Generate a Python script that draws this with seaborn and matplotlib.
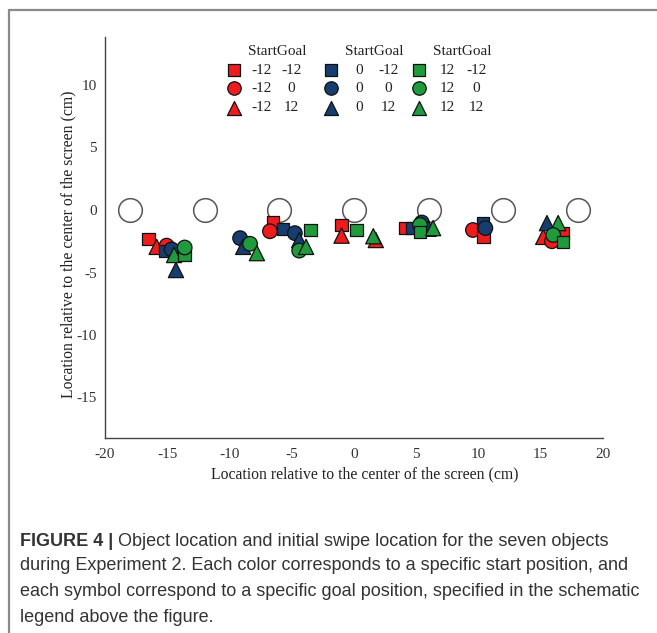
import matplotlib
matplotlib.use("Agg")
import matplotlib.pyplot as plt
from matplotlib.lines import Line2D
import numpy as np
import pandas as pd
import seaborn as sns

# Object locations (cm) shown as open circles on the screen line
object_x = [-18, -12, -6, 0, 6, 12, 18]
object_y = [0, 0, 0, 0, 0, 0, 0]

# Initial swipe locations: start position, goal position, x (cm), y (cm)
swipe_start = [-12, -12, -12, 0, 0, 0, 12, 12, 12,
               0, 0, 12, 12,
               -12, -12, 0, 0, 0, 12, 12, 12,
               -12, -12, 12, 12, -12,
               -12, 0, 0, 12, 12, 0, 12,
               -12, -12, 0, 0,
               -12, -12, 0, 12, -12, 12, 12]
swipe_goal = [-12, 12, 0, -12, 0, 12, 12, -12, 0,
              0, 12, 0, 12,
              -12, 0, -12, 0, 12, 0, 12, -12,
              -12, 12, -12, 12, 12,
              -12, -12, 0, 0, -12, 12, 12,
              0, -12, -12, 0,
              12, 0, 12, 12, -12, 0, -12]
swipe_x = [-16.5, -15.85, -15.05, -15.2, -14.65, -14.3, -14.45, -13.6, -13.6,
           -9.15, -8.9, -8.35, -7.8,
           -6.5, -6.75, -5.7, -4.75, -4.4, -4.4, -3.85, -3.5,
           -1.0, -1.0, 0.2, 1.55, 1.75,
           4.1, 4.65, 5.45, 5.3, 5.3, 6.0, 6.35,
           9.55, 10.4, 10.35, 10.55,
           15.2, 15.9, 15.5, 16.4, 16.8, 16.0, 16.8]
swipe_y = [-2.3, -2.95, -2.85, -3.3, -3.15, -4.8, -3.6, -3.6, -3.0,
           -2.25, -2.95, -2.7, -3.45,
           -1.0, -1.7, -1.5, -1.85, -2.4, -3.25, -2.95, -1.6,
           -1.2, -2.05, -1.6, -2.1, -2.4,
           -1.45, -1.45, -1.0, -1.2, -1.75, -1.5, -1.45,
           -1.6, -2.15, -1.05, -1.45,
           -2.15, -2.5, -1.05, -1.05, -1.85, -2.0, -2.55]

start_levels = [-12, 0, 12]
goal_levels = [-12, 0, 12]
start_colors = {-12: "#ee1c1c", 0: "#163d6d", 12: "#1f9a3c"}
goal_markers = {-12: "s", 0: "o", 12: "^"}
goal_sizes = {-12: 80, 0: 110, 12: 120}

x_ticks = [-20, -15, -10, -5, 0, 5, 10, 15, 20]
y_ticks = [-15, -10, -5, 0, 5, 10]
axis_label = "Location relative to the center of the screen (cm)"
caption_bold = "FIGURE 4 |"
caption_lines = [
    "Object location and initial swipe location for the seven objects",
    "during Experiment 2. Each color corresponds to a specific start position, and",
    "each symbol correspond to a specific goal position, specified in the schematic",
    "legend above the figure.",
]

df = pd.DataFrame({"start": swipe_start, "goal": swipe_goal, "x": swipe_x, "y": swipe_y})
df["order"] = df["start"].map({-12: 0, 0: 1, 12: 2})
df = df.sort_values("order", kind="stable")

sns.set_style("white")
serif = ["Liberation Serif", "DejaVu Serif"]
plt.rcParams["font.family"] = serif

W, H = 657, 633
fig = plt.figure(figsize=(W / 100, H / 100), dpi=100)

# page frame around the figure panel
fig.add_artist(Line2D([9 / W, 1.0], [1 - 10 / H, 1 - 10 / H], color="#8a8a8a", lw=1.6,
                      transform=fig.transFigure))
fig.add_artist(Line2D([9 / W, 9 / W], [0, 1 - 10 / H], color="#8a8a8a", lw=1.6,
                      transform=fig.transFigure))

ax = fig.add_axes([105 / W, 1 - 438 / H, (603 - 105) / W, (438 - 37) / H])
ax.set_xlim(-20, 20)
ax.set_ylim(-18.24, 13.84)

# object locations
sns.scatterplot(x=object_x, y=object_y, ax=ax, s=290, marker="o",
                facecolor="white", edgecolor="#555555", linewidth=1.1, zorder=2, legend=False)

# swipe locations, colour = start, symbol = goal
sns.scatterplot(data=df, x="x", y="y", hue="start", style="goal", size="goal",
                palette=start_colors, markers=goal_markers, sizes=goal_sizes,
                hue_order=start_levels, style_order=goal_levels, size_order=goal_levels,
                edgecolor="#111111", linewidth=0.9, ax=ax, legend=False, zorder=3)

# schematic legend
text_size = 11
col_anchor_x = [-9.64, -1.85, 5.22]
row_y = [11.2, 9.74, 8.18]
for ci, s_val in enumerate(start_levels):
    x0 = col_anchor_x[ci]
    ax.text(x0 + 1.1, 12.66, "StartGoal", ha="left", va="center", fontsize=text_size,
            color="#222222")
    for ri, g_val in enumerate(goal_levels):
        ax.scatter([x0], [row_y[ri]], marker=goal_markers[g_val], s=goal_sizes[g_val] * 0.85,
                   color=start_colors[s_val], edgecolor="#111111", linewidth=0.9, zorder=3)
        ax.text(x0 + 2.25, row_y[ri], str(s_val), ha="center", va="center", fontsize=text_size,
                color="#222222")
        ax.text(x0 + 4.6, row_y[ri], str(g_val), ha="center", va="center", fontsize=text_size,
                color="#222222")

ax.set_xticks(x_ticks)
ax.set_yticks(y_ticks)
ax.set_xticklabels([str(v) for v in x_ticks])
ax.set_yticklabels([str(v) for v in y_ticks])
ax.tick_params(direction="in", length=4, width=0.9, colors="#444444", labelsize=11,
               labelcolor="#333333")
ax.tick_params(axis="x", pad=7)
ax.tick_params(axis="y", pad=6)
for side in ["top", "right"]:
    ax.spines[side].set_visible(False)
for side in ["left", "bottom"]:
    ax.spines[side].set_color("#444444")
    ax.spines[side].set_linewidth(1.0)

ax.set_xlabel(axis_label, fontsize=11.3, color="#222222", va="center")
ax.xaxis.set_label_coords((365 - 105) / 498, (438 - 474) / 401)
ax.set_ylabel(axis_label, fontsize=11.3, color="#222222", va="center")
ax.yaxis.set_label_coords((68 - 105) / 498, (438 - 244) / 401)

# caption
sans = ["Liberation Sans", "DejaVu Sans"]
cap_size = 12.95
cap_color = "#333333"
line_y = [541, 566, 591, 617]
t_bold = fig.text(20 / W, 1 - line_y[0] / H, caption_bold + " ", family=sans, fontsize=cap_size,
                  fontweight="bold", color=cap_color, va="center", ha="left")
fig.canvas.draw()
bb = t_bold.get_window_extent(renderer=fig.canvas.get_renderer())
fig.text(bb.x1 / W, 1 - line_y[0] / H, caption_lines[0], family=sans, fontsize=cap_size,
         color=cap_color, va="center", ha="left")
for i in range(1, 4):
    fig.text(20 / W, 1 - line_y[i] / H, caption_lines[i], family=sans, fontsize=cap_size,
             color=cap_color, va="center", ha="left")

fig.savefig("out.png", dpi=100)
